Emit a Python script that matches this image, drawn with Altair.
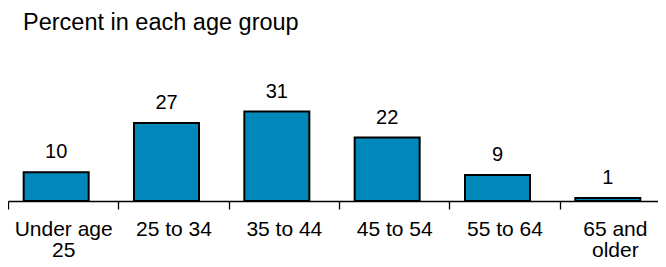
import altair as alt
import pandas as pd

categories = ["Under age 25", "25 to 34", "35 to 44", "45 to 54", "55 to 64", "65 and older"]
values = [10, 27, 31, 22, 9, 1]
title_text = "Percent in each age group"

df = pd.DataFrame({"group": categories, "pct": values})
title_df = pd.DataFrame({"t": [title_text]})

FONT = "Liberation Sans"

x = alt.X(
    "group:N",
    sort=categories,
    scale=alt.Scale(range=[0, 662], paddingInner=0, paddingOuter=0),
    axis=alt.Axis(
        title=None,
        labelAngle=0,
        tickBand="extent",
        labelExpr="datum.label == 'Under age 25' ? ['Under age', '25'] : datum.label == '65 and older' ? ['65 and', 'older'] : datum.label",
        labelFont=FONT,
        labelFontSize=21,
        labelColor="#000000",
        labelLineHeight=21,
        labelPadding=9,
        labelBaseline="top",
        tickSize=8,
        tickColor="#000000",
        tickWidth=1.3,
        domainColor="#000000",
        domainWidth=1.3,
        grid=False,
    ),
)

y = alt.Y("pct:Q", scale=alt.Scale(domain=[0, 35]), axis=None)

bars = alt.Chart(df).mark_bar(
    width=65, xOffset=-7, color="#0088BA", stroke="#000000", strokeWidth=2
).encode(x=x, y=y)

labels = alt.Chart(df).mark_text(
    font=FONT, fontSize=20, color="#000000", baseline="alphabetic", dy=-14, dx=-7
).encode(x=x, y=y, text="pct:Q")

title = alt.Chart(title_df).mark_text(
    font=FONT, fontSize=23.5, color="#000000", align="left", baseline="alphabetic"
).encode(x=alt.value(15), y=alt.value(-70.5), text="t:N")

chart = (
    alt.layer(bars, labels, title)
    .properties(
        width=650,
        height=101,
        padding={"left": 0, "right": 0, "top": 92, "bottom": 58},
        autosize=alt.AutoSizeParams(type="none"),
    )
    .configure_view(stroke=None)
)

chart.save("out.html", embed_options={"renderer": "svg", "actions": False})
